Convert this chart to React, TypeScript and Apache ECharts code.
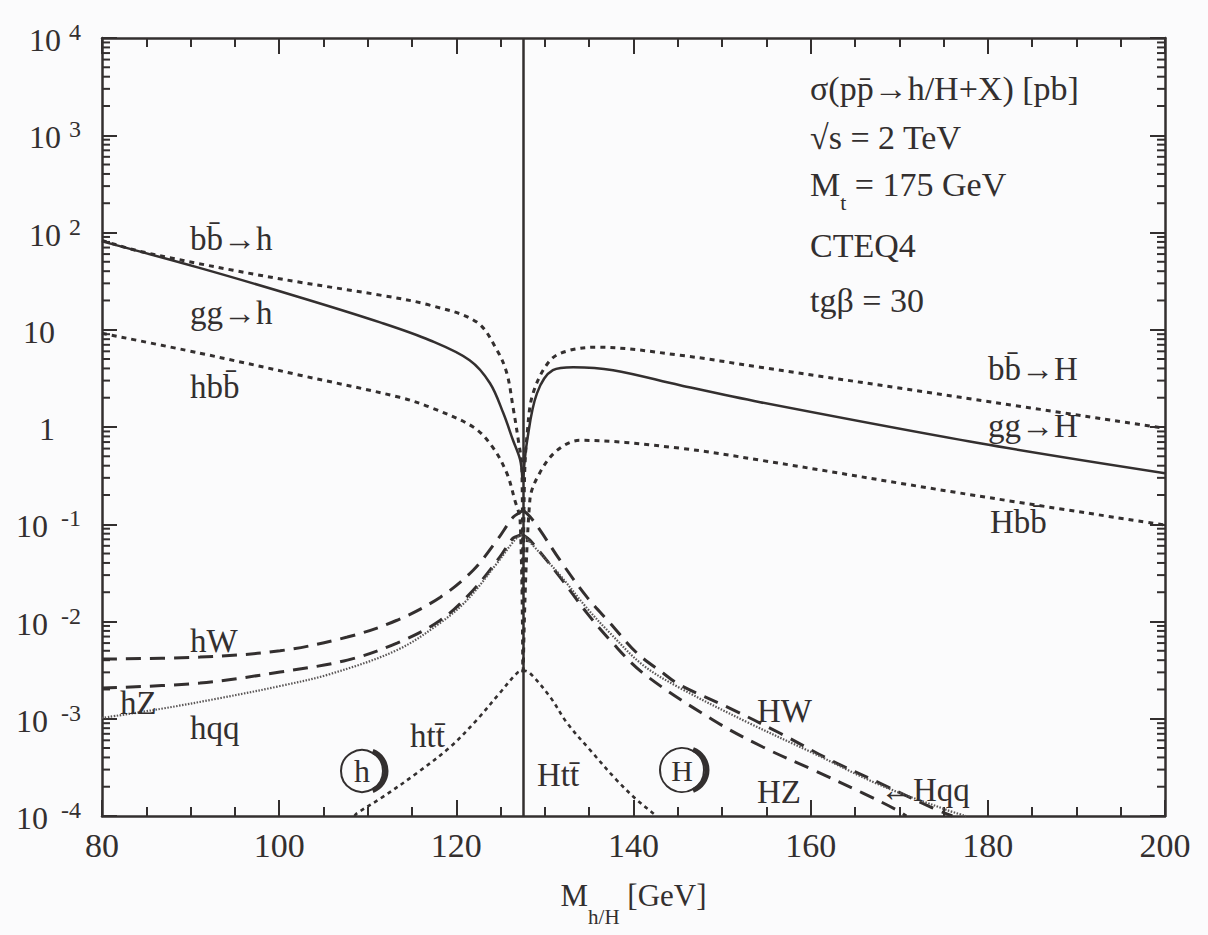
import React, { useEffect, useRef } from 'react';
import * as echarts from 'echarts';

// ---------- data ----------
const X_MIN = 80;
const X_MAX = 200;
const X_TICK_STEP = 20;
const Y_MIN = 1e-4;
const Y_MAX = 1e4;
const CROSSING_MASS = 127.5;

// left branch (light Higgs h)
const bbh_x = [80, 84.3, 94.8, 102.35, 111.4, 117.0, 122.3, 124.6, 125.7, 126.4, 127.0, 127.4, 127.5];
const bbh_y = [83, 64, 40.9, 30.8, 22.7, 17.9, 12.0, 6.15, 3.57, 1.6, 0.73, 0.386, 0.02];

const ggh_x = [80, 91.1, 102.3, 111.4, 117.0, 121.5, 123.8, 125.3, 126.4, 127.2, 127.45];
const ggh_y = [81, 43, 21.6, 11.9, 7.8, 4.86, 2.82, 1.39, 0.73, 0.46, 0.3];

const hbb_x = [80, 91.06, 102.35, 113.6, 117.0, 121.9, 124.1, 125.7, 126.6, 127.2, 127.5];
const hbb_y = [9.2, 5.74, 3.41, 2.02, 1.6, 1.0, 0.62, 0.335, 0.177, 0.11, 0.003];

const hW_x = [80, 91.06, 100.1, 107.7, 113.3, 118.2, 121.9, 124.6, 126.4, 127.2, 127.5];
const hW_y = [4.11e-3, 4.31e-3, 5.0e-3, 6.92e-3, 1.03e-2, 1.78e-2, 3.37e-2, 6.87e-2, 0.118, 0.133, 0.14];

const hZ_x = [80, 91.06, 100.1, 107.7, 113.3, 118.2, 121.9, 124.9, 126.4, 127.2, 127.5];
const hZ_y = [2.07e-3, 2.33e-3, 3.02e-3, 4.01e-3, 6.0e-3, 1.03e-2, 2.1e-2, 4.59e-2, 7.2e-2, 7.7e-2, 0.078];

const hqq_x = [80, 86.55, 93.32, 100.1, 105.74, 113.3, 118.16, 121.2, 124.6, 126.4, 127.2, 127.5];
const hqq_y = [1.02e-3, 1.26e-3, 1.63e-3, 2.17e-3, 2.88e-3, 5.08e-3, 9.64e-3, 1.66e-2, 3.98e-2, 6.55e-2, 7.7e-2, 0.078];

const htt_x = [108.5, 108.8, 111.7, 115.56, 119.3, 122.3, 124.9, 126.85, 127.5];
const htt_y = [1e-4, 1.07e-4, 1.57e-4, 2.77e-4, 5.12e-4, 9.7e-4, 1.84e-3, 2.95e-3, 3.16e-3];

// right branch (heavy Higgs H)
const bbH_x = [127.55, 127.7, 128.0, 128.66, 130.6, 132.8, 135.9, 145.25, 154.3, 176.9, 200];
const bbH_y = [0.02, 0.3, 0.863, 2.22, 4.86, 6.15, 6.61, 5.47, 4.12, 2.02, 0.97];

const ggH_x = [127.55, 128.0, 129.1, 130.9, 133.2, 137.7, 145.25, 154.3, 179.1, 200];
const ggH_y = [0.3, 0.73, 2.22, 3.84, 4.12, 3.84, 2.69, 1.8, 0.68, 0.335];

const Hbb_x = [127.55, 128.3, 129.4, 131.4, 134.0, 145.25, 154.3, 176.9, 200];
const Hbb_y = [0.003, 0.177, 0.335, 0.578, 0.73, 0.605, 0.456, 0.209, 0.098];

const HW_x = [127.5, 128.3, 129.45, 131.7, 134.75, 137.35, 140.4, 143.33, 145.25, 150.9, 156.5, 162.2, 167.8, 173.5, 176.0];
const HW_y = [0.14, 0.12, 8.69e-2, 4.27e-2, 1.78e-2, 9.64e-3, 4.73e-3, 2.95e-3, 2.22e-3, 1.28e-3, 7.13e-4, 3.77e-4, 2.18e-4, 1.24e-4, 1e-4];

const HZ_x = [127.5, 128.3, 131.7, 134.75, 137.35, 141.07, 148.98, 154.6, 160.3, 165.9, 169.75, 170.8];
const HZ_y = [0.078, 6.87e-2, 2.86e-2, 1.22e-2, 6.44e-3, 2.95e-3, 9.7e-4, 5.12e-4, 2.97e-4, 1.72e-4, 1.15e-4, 1e-4];

const Hqq_x = [127.5, 128.3, 131.7, 134.75, 137.35, 141.07, 145.25, 152.8, 160.3, 167.8, 175.4, 177.5];
const Hqq_y = [0.078, 6.55e-2, 3.0e-2, 1.37e-2, 7.6e-3, 3.56e-3, 2.07e-3, 9.25e-4, 4.43e-4, 2.09e-4, 1.15e-4, 1e-4];

const Htt_x = [127.5, 128.3, 130.6, 132.5, 135.1, 138.1, 140.4, 142.2, 142.6];
const Htt_y = [3.16e-3, 2.95e-3, 1.67e-3, 9.04e-4, 4.77e-4, 2.34e-4, 1.46e-4, 1.07e-4, 1e-4];

// y minor tick multipliers per decade
const MINOR_MULTIPLIERS = [2, 3, 4, 5, 6, 7, 8, 9];
const DECADES = [-4, -3, -2, -1, 0, 1, 2, 3];

// ---------- styling ----------
const INK = '#332f2f';
const FONT = "'Liberation Serif', 'DejaVu Serif', serif";

const solid = { color: INK, width: 2.5, type: 'solid' as const };
const dotted = { color: INK, width: 3, type: [5, 5] as number[] };
const fineDot = { color: '#5a5656', width: 2.2, type: [1.5, 1.5] as number[] };
const dashed = { color: INK, width: 3, type: [15, 9] as number[] };
const tDot = { color: INK, width: 2.6, type: [4, 4] as number[] };

const pair = (xs: number[], ys: number[]) => xs.map((x, i) => [x, ys[i]]);

const lineSeries = (name: string, xs: number[], ys: number[], style: any, extra: any = {}) => ({
  type: 'line',
  name,
  data: pair(xs, ys),
  showSymbol: false,
  symbol: 'none',
  smooth: 0.35,
  lineStyle: style,
  silent: true,
  z: 3,
  ...extra,
});

const yMinorData: number[][] = [];
DECADES.forEach((e) => MINOR_MULTIPLIERS.forEach((m) => yMinorData.push([X_MIN, m * Math.pow(10, e)])));

const yLabelFormatter = (v: number) => {
  const e = Math.round(Math.log10(v));
  if (e === 0) return '{b|1}{sp| }';
  if (e === 1) return '{b|10}{sp| }';
  if (e > 0) return `{b|10}{sp2| }{s|${e}}`;
  return `{b|10}{sp3| }{s|${e}}`;
};

const label = (text: string, x: number, y: number, size = 33, extra: any = {}) => ({
  type: 'text',
  x,
  y,
  z: 10,
  style: {
    text,
    fill: INK,
    font: `${size}px ${FONT}`,
    textAlign: 'left',
    textVerticalAlign: 'middle',
    ...extra,
  },
});

const circled = (ch: string, cx: number, cy: number, r: number, size: number) => [
  { type: 'circle', z: 10, shape: { cx, cy, r }, style: { stroke: INK, lineWidth: 2, fill: null } },
  {
    type: 'arc',
    z: 10,
    shape: { cx: cx + 3, cy, r: r, startAngle: -1.2, endAngle: 1.2, clockwise: true },
    style: { stroke: INK, lineWidth: 5, fill: null },
  },
  {
    type: 'text',
    z: 10,
    x: cx,
    y: cy,
    style: { text: ch, fill: INK, font: `${size}px ${FONT}`, textAlign: 'center', textVerticalAlign: 'middle' },
  },
];

const axisLineStyle = { color: INK, width: 2.5 };
const tickStyle = { color: INK, width: 2 };

const option: any = {
  animation: false,
  backgroundColor: '#fbfbfc',
  textStyle: { fontFamily: FONT },
  grid: { left: 102, right: 43, top: 38, bottom: 119, containLabel: false },
  xAxis: [
    {
      type: 'value',
      min: X_MIN,
      max: X_MAX,
      interval: X_TICK_STEP,
      position: 'bottom',
      axisLine: { show: true, onZero: false, lineStyle: axisLineStyle },
      axisTick: { show: true, inside: true, length: 16, lineStyle: tickStyle },
      minorTick: { show: true, splitNumber: 4, length: 9, lineStyle: tickStyle },
      splitLine: { show: false },
      axisLabel: { color: INK, fontSize: 34, fontFamily: FONT, margin: 12 },
      name: '{m|M}{sub|h/H}{m| [GeV]}',
      nameLocation: 'middle',
      nameGap: 64,
      nameTextStyle: {
        fontFamily: FONT,
        color: INK,
        rich: {
          m: { fontSize: 31, fontFamily: FONT, color: INK, lineHeight: 47, verticalAlign: 'top' },
          sub: { fontSize: 21, fontFamily: FONT, color: INK, verticalAlign: 'bottom' },
        },
      },
    },
    {
      type: 'value',
      min: X_MIN,
      max: X_MAX,
      interval: X_TICK_STEP,
      position: 'top',
      axisLine: { show: true, onZero: false, lineStyle: axisLineStyle },
      axisTick: { show: true, inside: true, length: 16, lineStyle: tickStyle },
      minorTick: { show: true, splitNumber: 4, length: 9, lineStyle: tickStyle },
      splitLine: { show: false },
      axisLabel: { show: false },
    },
  ],
  yAxis: [
    {
      type: 'log',
      logBase: 10,
      min: Y_MIN,
      max: Y_MAX,
      splitNumber: 8,
      position: 'left',
      axisLine: { show: true, onZero: false, lineStyle: axisLineStyle },
      axisTick: { show: true, inside: true, length: 15, lineStyle: tickStyle },
      splitLine: { show: false },
      axisLabel: {
        color: INK,
        fontFamily: FONT,
        margin: 21,
        align: 'right',
        formatter: yLabelFormatter,
        rich: {
          b: { fontSize: 32, fontFamily: FONT, color: INK, lineHeight: 36, verticalAlign: 'bottom' },
          s: { fontSize: 24, fontFamily: FONT, color: INK, verticalAlign: 'top' },
          sp: { width: 26, fontSize: 10, lineHeight: 36 },
          sp2: { width: 8, fontSize: 10, lineHeight: 36 },
          sp3: { width: 13, fontSize: 10, lineHeight: 36 },
        },
      },
    },
    {
      type: 'log',
      logBase: 10,
      min: Y_MIN,
      max: Y_MAX,
      splitNumber: 8,
      position: 'right',
      axisLine: { show: true, onZero: false, lineStyle: axisLineStyle },
      axisTick: { show: true, inside: true, length: 15, lineStyle: tickStyle },
      splitLine: { show: false },
      axisLabel: { show: false },
    },
  ],
  series: [
    lineSeries('bb→h', bbh_x, bbh_y, dotted, {
      markLine: {
        silent: true,
        symbol: 'none',
        label: { show: false },
        lineStyle: { color: INK, width: 2.5, type: 'solid' },
        data: [{ xAxis: CROSSING_MASS }],
      },
    }),
    lineSeries('gg→h', ggh_x, ggh_y, solid),
    lineSeries('hbb', hbb_x, hbb_y, dotted),
    lineSeries('hW', hW_x, hW_y, dashed),
    lineSeries('hZ', hZ_x, hZ_y, dashed),
    lineSeries('hqq', hqq_x, hqq_y, fineDot),
    lineSeries('htt', htt_x, htt_y, tDot),
    lineSeries('bb→H', bbH_x, bbH_y, dotted),
    lineSeries('gg→H', ggH_x, ggH_y, solid),
    lineSeries('Hbb', Hbb_x, Hbb_y, dotted),
    lineSeries('HW', HW_x, HW_y, dashed),
    lineSeries('HZ', HZ_x, HZ_y, dashed),
    lineSeries('Hqq', Hqq_x, Hqq_y, fineDot),
    lineSeries('Htt', Htt_x, Htt_y, tDot),
    {
      type: 'custom',
      name: 'yMinorTicks',
      coordinateSystem: 'cartesian2d',
      silent: true,
      clip: false,
      z: 4,
      encode: { x: 0, y: 1 },
      data: yMinorData,
      renderItem: (params: any, api: any) => {
        const v = api.value(1);
        const pl = api.coord([X_MIN, v]);
        const pr = api.coord([X_MAX, v]);
        return {
          type: 'group',
          children: [
            { type: 'line', shape: { x1: pl[0], y1: pl[1], x2: pl[0] + 8, y2: pl[1] }, style: { stroke: INK, lineWidth: 2 } },
            { type: 'line', shape: { x1: pr[0] - 8, y1: pr[1], x2: pr[0], y2: pr[1] }, style: { stroke: INK, lineWidth: 2 } },
          ],
        };
      },
    },
  ],
  graphic: [
    label('b\u0062\u0304\u2192h', 190, 239),
    label('gg\u2192h', 190, 313),
    label('hb\u0062\u0304', 190, 387),
    label('hW', 190, 641),
    label('hZ', 120, 703),
    label('hqq', 190, 728),
    label('ht\u0074\u0304', 410, 736),
    label('Ht\u0074\u0304', 537, 775),
    label('HW', 757, 711),
    label('HZ', 757, 792),
    label('\u2190Hqq', 880, 790),
    label('b\u0062\u0304\u2192H', 988, 369),
    label('gg\u2192H', 988, 426),
    label('Hb\u0062\u0304', 990, 522),
    label('\u03c3(p\u0070\u0304\u2192h/H+X) [pb]', 810, 88, 34),
    label('\u221as = 2 TeV', 810, 137, 34),
    {
      type: 'text',
      x: 810,
      y: 190,
      z: 10,
      style: {
        text: '{a|M}{t|t}{a| = 175 GeV}',
        textAlign: 'left',
        textVerticalAlign: 'middle',
        rich: {
          a: { fontSize: 34, fontFamily: FONT, fill: INK, color: INK, lineHeight: 46, verticalAlign: 'top' },
          t: { fontSize: 22, fontFamily: FONT, fill: INK, color: INK, verticalAlign: 'bottom' },
        },
      },
    },
    label('CTEQ4', 810, 245, 34),
    label('tg\u03b2 = 30', 810, 300, 34),
    ...circled('h', 362, 771, 21, 32),
    ...circled('H', 682, 770, 22, 30),
  ],
};

export default function App() {
  const ref = useRef<HTMLDivElement>(null);
  useEffect(() => {
    if (!ref.current) return;
    const chart = echarts.init(ref.current, null, { renderer: 'svg' });
    chart.setOption(option);
    return () => chart.dispose();
  }, []);
  return (
    <div
      ref={ref}
      style={{ position: 'absolute', left: 0, top: 0, width: 1208, height: 935 }}
    />
  );
}
